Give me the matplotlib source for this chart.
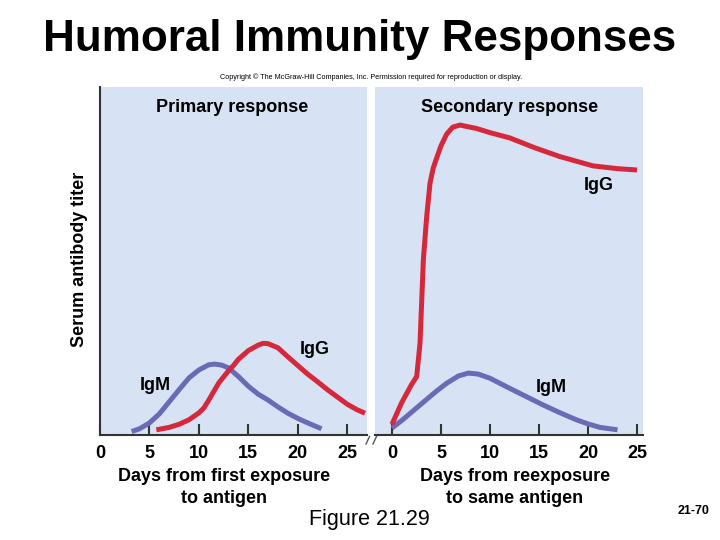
import matplotlib
matplotlib.use("Agg")
import matplotlib.pyplot as plt
from matplotlib.lines import Line2D

# ---------------- data ----------------
prim_igm_days = [3.2, 4, 5, 6, 7, 8, 9, 10, 11, 11.6, 12.3, 13, 14, 15, 16, 17, 18, 19, 20, 21, 22.4]
prim_igm_vals = [0.4, 1.2, 2.9, 5.5, 9, 12.5, 15.9, 18.2, 19.7, 19.9, 19.6, 18.8, 16.3, 13.5, 11.2, 9.5, 7.5, 5.7, 4.2, 2.9, 1.2]

prim_igg_days = [5.7, 7, 8, 9, 10, 10.5, 11, 12, 13, 13.5, 14, 15, 16, 16.5, 17, 18, 19, 20, 21, 22, 23, 24, 25, 26, 26.8]
prim_igg_vals = [0.9, 1.6, 2.5, 3.8, 5.8, 7.2, 9.5, 14.4, 18, 19.5, 21.3, 23.8, 25.4, 25.9, 25.8, 24.6, 22, 19.5, 17, 14.8, 12.5, 10.4, 8.3, 6.7, 5.7]

sec_igm_days = [0, 1, 2, 3.5, 4.5, 5.6, 6.8, 7.8, 8.8, 10, 12, 13.7, 15.4, 17, 18.8, 20, 21.2, 23]
sec_igm_vals = [1.4, 3.6, 6, 9.6, 12, 14.4, 16.5, 17.3, 17, 15.8, 12.9, 10.5, 8.1, 6, 3.8, 2.6, 1.6, 0.9]

sec_igg_days = [0, 1, 2, 2.52, 2.86, 3.2, 3.54, 3.88, 4.2, 4.56, 5, 5.58, 6.2, 6.94, 8.64, 10, 12, 14.5, 17.1, 20.5, 23, 25]
sec_igg_vals = [2.5, 8.8, 14, 16.3, 25.9, 50, 62.5, 72.2, 76.5, 79.5, 83, 86.4, 88.4, 89, 88, 86.8, 85.3, 82.5, 79.9, 77.2, 76.4, 76]

tick_vals = [0, 5, 10, 15, 20, 25]
tick_labels = ["0", "5", "10", "15", "20", "25"]

# ---------------- style ----------------
RED = "#d6283c"
BLUE = "#6b6bb5"
BG = "#d7e3f4"
SPINE = "#333333"
FONT = "Liberation Sans"

W, H = 720, 540
fig = plt.figure(figsize=(7.2, 5.4), dpi=100)
fig.patch.set_facecolor("white")


def fx(px):
    return px / W


def fy(py):
    return 1 - py / H


ax1 = fig.add_axes([fx(100), fy(435), 267 / W, 348 / H])
ax2 = fig.add_axes([fx(375), fy(435), 268 / W, 348 / H])

for ax in (ax1, ax2):
    ax.set_facecolor(BG)
    ax.set_ylim(-0.6, 100)
    ax.set_yticks([])
    for s in ("top", "right"):
        ax.spines[s].set_visible(False)
    ax.spines["bottom"].set_color(SPINE)
    ax.spines["bottom"].set_linewidth(1.5)
    ax.set_xticks(tick_vals)
    ax.set_xticklabels(tick_labels, fontfamily=FONT, fontweight="bold", fontsize=13)
    ax.tick_params(axis="x", direction="in", length=8, width=1.5, color=SPINE, pad=7)

ax1.spines["left"].set_color(SPINE)
ax1.spines["left"].set_linewidth(1.5)
ax2.spines["left"].set_visible(False)
ax1.set_xlim(0, 27.0)
ax2.set_xlim(-1.73, 25.6)

lw = 3.6
kw = dict(lw=lw, solid_capstyle="butt", solid_joinstyle="round")
ax1.plot(prim_igm_days, prim_igm_vals, color=BLUE, **kw)
ax1.plot(prim_igg_days, prim_igg_vals, color=RED, **kw)
ax2.plot(sec_igm_days, sec_igm_vals, color=BLUE, **kw)
ax2.plot(sec_igg_days, sec_igg_vals, color=RED, **kw)


def t(px, py, s, size=13, weight="bold", **kw):
    fig.text(fx(px), fy(py), s, fontfamily=FONT, fontsize=size, fontweight=weight,
             ha=kw.pop("ha", "center"), va=kw.pop("va", "center"), **kw)


t(360, 39, "Humoral Immunity Responses", size=31.7)
t(371, 77, "Copyright \u00a9 The McGraw-Hill Companies, Inc. Permission required for reproduction or display.",
  size=5.2, weight="normal")
t(232, 108, "Primary response")
t(510, 108, "Secondary response")
t(599, 185, "IgG")
t(315, 350, "IgG")
t(155, 386, "IgM")
t(551, 388, "IgM")
t(80, 259, "Serum antibody titer", rotation=90)
t(224, 487.5, "Days from first exposure\nto antigen", linespacing=1.35)
t(515, 487.5, "Days from reexposure\nto same antigen", linespacing=1.35)
t(369, 520, "Figure 21.29", size=15.5, weight="normal")
t(694, 511, "21-70", size=9)

# break marks
for x0 in (366, 373):
    fig.add_artist(Line2D([fx(x0), fx(x0 + 3.5)], [fy(444), fy(436.5)], color="#555555", lw=1))

fig.savefig("out.png", dpi=100)
